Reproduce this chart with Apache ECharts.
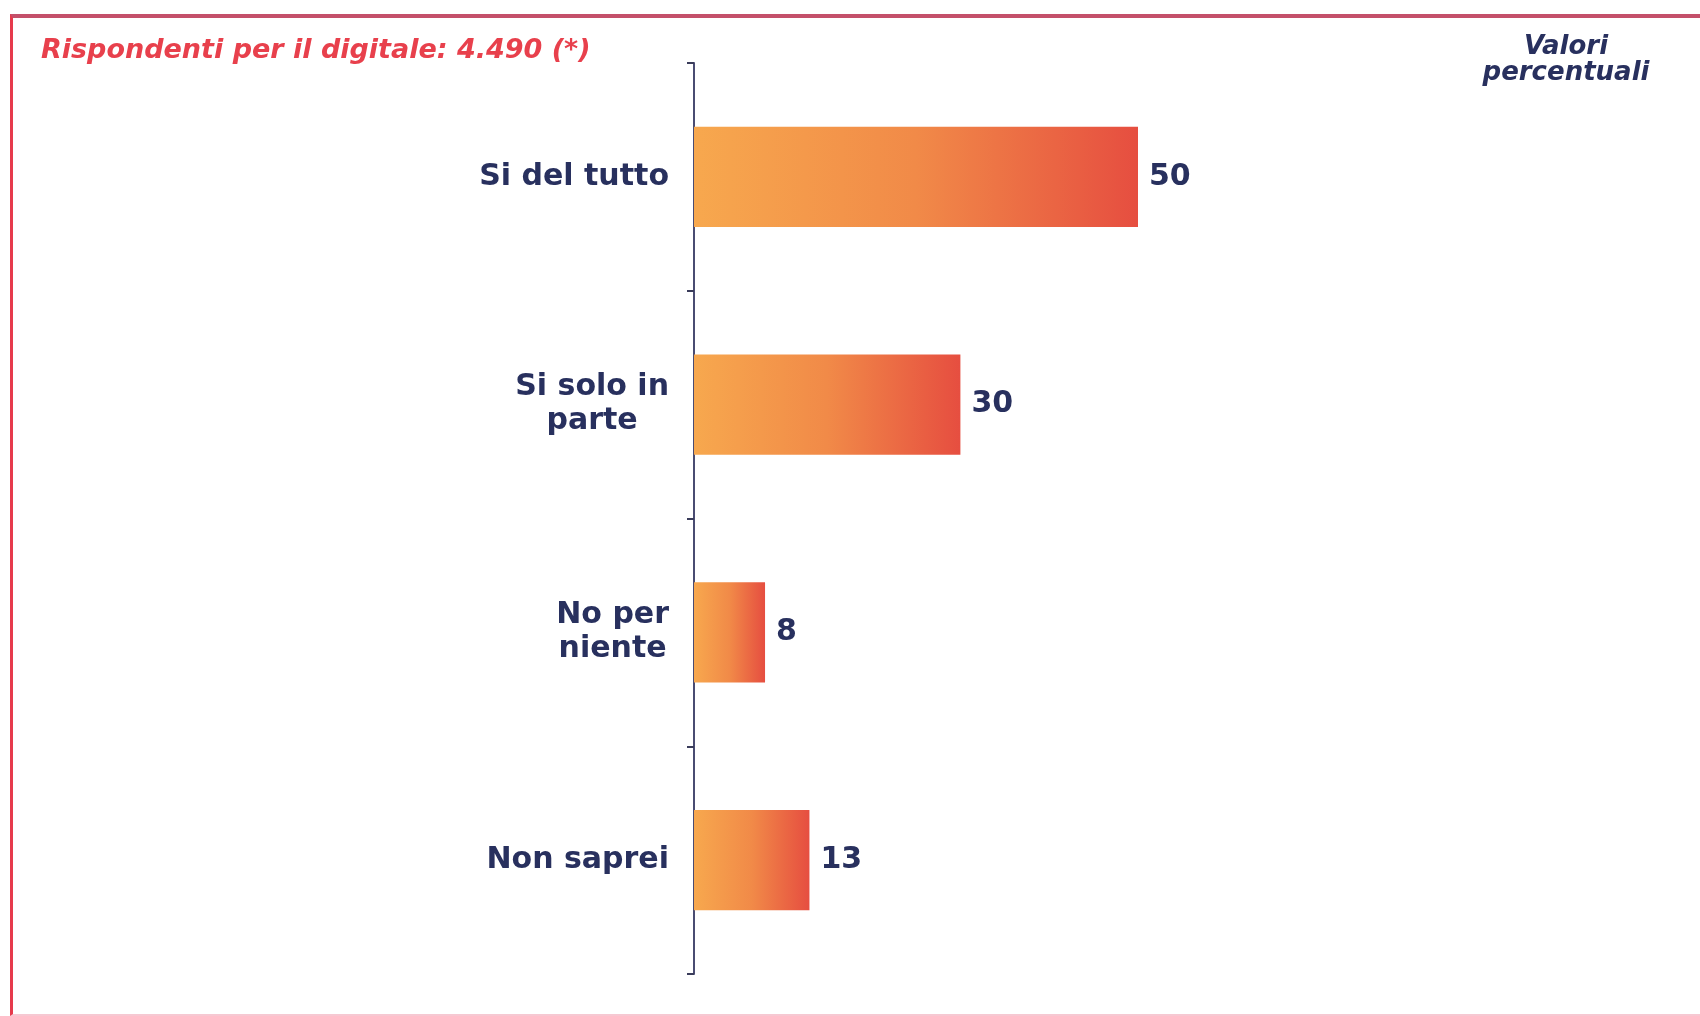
<!DOCTYPE html>
<html>
<head>
<meta charset="utf-8">
<script src="https://cdn.jsdelivr.net/npm/echarts@6/dist/echarts.min.js"></script>
<style>
  html, body { margin: 0; padding: 0; background: #fff; }
  #chart { width: 1700px; height: 1016px; }
  .frame {
    position: absolute; left: 10px; top: 14px; width: 1700px; height: 996px;
    border-top: 4px solid #c4506a; border-left: 3px solid #e63a4c; border-bottom: 2px solid #f6c8d2;
    pointer-events: none;
  }
</style>
</head>
<body>
<div id="chart"></div>
<div class="frame"></div>
<script>
const categories = ['Si del tutto', 'Si solo in\nparte', 'No per\nniente', 'Non saprei']
const values = [50, 30, 8, 13]
const xMax = 100

const navy = '#28305e'
const font = '"DejaVu Sans", Verdana, sans-serif'

const chart = echarts.init(document.getElementById('chart'))
chart.setOption({
  animation: false,
  title: [
    {
      text: 'Rispondenti per il digitale: 4.490 (*)',
      left: 41,
      top: 37,
      padding: 0,
      textStyle: { color: '#e8404c', fontSize: 27, fontStyle: 'italic', fontWeight: 'bold', fontFamily: font }
    },
    {
      text: 'Valori\npercentuali',
      left: 1566,
      top: 34,
      padding: 0,
      textAlign: 'center',
      textStyle: { color: navy, fontSize: 26, fontStyle: 'italic', fontWeight: 'bold', fontFamily: font, lineHeight: 26 }
    }
  ],
  grid: { left: 694, top: 63, bottom: 42, right: 118 },
  xAxis: {
    type: 'value',
    min: 0,
    max: xMax,
    show: false
  },
  yAxis: {
    type: 'category',
    inverse: true,
    data: categories,
    axisLine: { show: true, lineStyle: { color: '#4a4c72', width: 2 } },
    axisTick: { show: true, length: 7, lineStyle: { color: '#3a3c5a', width: 2 } },
    axisLabel: {
      margin: 25,
      formatter: v => v.split('\n').map(s => '{c|' + s + '}').join('\n'),
      rich: {
        c: { align: 'center', color: navy, fontSize: 30, fontWeight: 'bold', fontFamily: font, lineHeight: 34 }
      }
    }
  },
  series: [
    {
      type: 'bar',
      data: values,
      barWidth: '44%',
      itemStyle: {
        color: new echarts.graphic.LinearGradient(0, 0, 1, 0, [
          { offset: 0, color: '#f7a84e' },
          { offset: 0.5, color: '#f18a48' },
          { offset: 1, color: '#e64e40' }
        ])
      },
      label: {
        show: true,
        position: 'right',
        distance: 11,
        color: navy,
        fontSize: 30,
        fontWeight: 'bold',
        fontFamily: font
      }
    }
  ]
})
</script>
</body>
</html>
